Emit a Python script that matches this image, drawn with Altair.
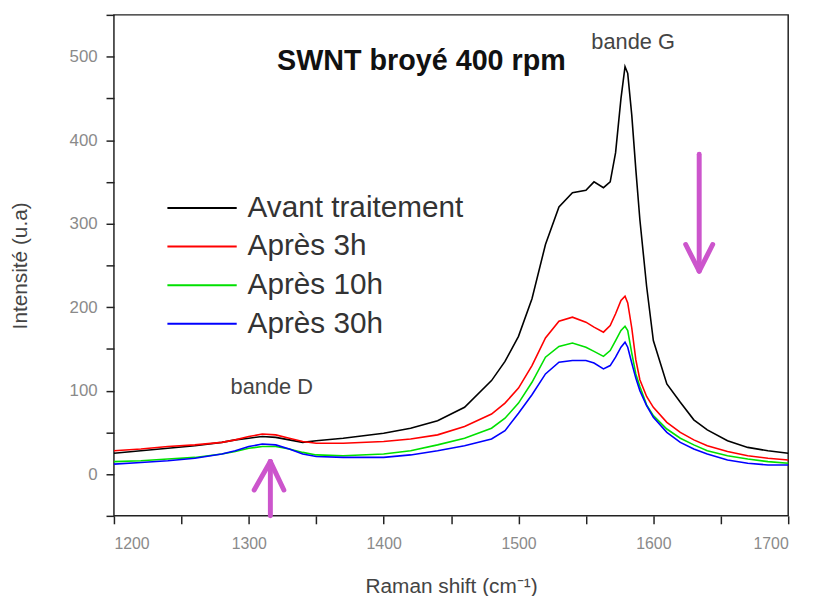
import altair as alt
import pandas as pd

# Raman shift (cm-1) grid
shift = [1200, 1220, 1240, 1260, 1280, 1290, 1300, 1310, 1320, 1330, 1340, 1350, 1370,
         1400, 1420, 1440, 1460, 1480, 1490, 1500, 1510, 1520, 1530, 1540, 1550, 1556,
         1563, 1568, 1572, 1576, 1579, 1581, 1584, 1587, 1590, 1595, 1600, 1610, 1620,
         1630, 1640, 1655, 1670, 1685, 1700]

avant = [25, 28, 31, 34, 38, 41, 43, 45, 44, 41, 38, 40, 43,
         49, 55, 64, 80, 112, 135, 165, 210, 275, 320, 337, 340, 350,
         343, 350, 385, 450, 488, 480, 430, 365, 305, 225, 160, 108, 86,
         65, 53, 40, 32, 28, 25]

apres3 = [28, 30, 33, 35, 38, 41, 45, 48, 47, 43, 39, 37, 37,
          39, 42, 47, 57, 72, 85, 103, 130, 163, 183, 188, 182, 176,
          170, 178, 192, 208, 213, 205, 175, 137, 113, 93, 80, 62, 50,
          41, 34, 27, 22, 19, 17]

apres10 = [15, 16, 18, 20, 24, 27, 31, 33, 33, 30, 26, 23, 22,
           24, 28, 35, 43, 55, 67, 85, 110, 140, 153, 157, 152, 147,
           141, 148, 160, 172, 177, 172, 145, 120, 105, 83, 70, 54, 43,
           35, 28, 22, 18, 15, 13]

apres30 = [12, 14, 16, 19, 24, 28, 33, 36, 35, 30, 24, 21, 20,
           20, 23, 28, 34, 42, 52, 73, 95, 120, 134, 136, 136, 133,
           126, 130, 140, 152, 158, 152, 133, 115, 100, 82, 68, 50, 38,
           30, 24, 17, 13, 11, 11]

series_names = ["Avant traitement", "Après 3h", "Après 10h", "Après 30h"]
series_colors = ["#000000", "#ff0000", "#00e000", "#0000ff"]
series_values = [avant, apres3, apres10, apres30]

# annotations (data coordinates)
ann_text = ["SWNT broyé 400 rpm", "bande G", "bande D"]
ann_x = [1428, 1585, 1317]
ann_y = [495, 518, 104]

# arrows: segments (x, y) -> (x2, y2)
arrow_x = [1634, 1624, 1644, 1316, 1304, 1326]
arrow_y = [383, 275, 275, 15, -19, -19]
arrow_x2 = [1634, 1634, 1634, 1316, 1316, 1316]
arrow_y2 = [246, 243, 243, -50, 15, 15]

x_ticks = [1200, 1250, 1300, 1350, 1400, 1450, 1500, 1550, 1600, 1650, 1700]
y_ticks = [-50, 0, 50, 100, 150, 200, 250, 300, 350, 400, 450, 500, 550]

rows = []
for name, vals in zip(series_names, series_values):
    for xv, yv in zip(shift, vals):
        rows.append({"shift": xv, "intensity": yv, "serie": name})
df = pd.DataFrame(rows)

xscale = alt.Scale(domain=[1200, 1700], nice=False)
yscale = alt.Scale(domain=[-50, 550], nice=False)

font = "Liberation Sans"

lines = alt.Chart(df).mark_line(strokeWidth=1.6).encode(
    x=alt.X("shift:Q", scale=xscale,
            axis=alt.Axis(title="Raman shift (cm⁻¹)",
                          values=x_ticks,
                          labelExpr="datum.value % 100 == 0 ? datum.label : ''",
                          format="d",
                          tickSize=8,
                          labelPadding=12, titlePadding=24,
                          labelFontSize=16, labelColor="#8a8a8a", labelFont=font,
                          titleFontSize=21, titleFont=font, titleColor="#444444",
                          titleFontWeight="normal",
                          domain=False, grid=False, tickColor="#222222", tickWidth=1.5)),
    y=alt.Y("intensity:Q", scale=yscale,
            axis=alt.Axis(title="Intensité (u.a)",
                          values=y_ticks,
                          labelExpr="datum.value % 100 == 0 ? datum.label : ''",
                          format="d",
                          tickSize=8,
                          labelPadding=9, titlePadding=39,
                          labelFontSize=17, labelColor="#8a8a8a", labelFont=font,
                          titleFontSize=21, titleFont=font, titleColor="#444444",
                          titleFontWeight="normal",
                          domain=False, grid=False, tickColor="#222222", tickWidth=1.5)),
    color=alt.Color("serie:N",
                    scale=alt.Scale(domain=series_names, range=series_colors),
                    sort=series_names,
                    legend=alt.Legend(orient="none", legendX=53, legendY=180, title=None,
                                      symbolType="stroke", symbolSize=4900, symbolStrokeWidth=2,
                                      labelFontSize=30, labelFont=font, labelColor="#333333",
                                      labelLimit=500,
                                      labelOffset=10, clipHeight=30, rowPadding=9)),
    detail="serie:N",
)

ann_df = pd.DataFrame({"text": ann_text, "x": ann_x, "y": ann_y})

title_txt = alt.Chart(ann_df.iloc[[0]]).mark_text(
    font=font, fontSize=29, fontWeight="bold", color="#111111"
).encode(x=alt.X("x:Q", scale=xscale), y=alt.Y("y:Q", scale=yscale), text="text:N")

band_txt = alt.Chart(ann_df.iloc[1:]).mark_text(
    font=font, fontSize=22, color="#444444"
).encode(x=alt.X("x:Q", scale=xscale), y=alt.Y("y:Q", scale=yscale), text="text:N")

arr_df = pd.DataFrame({"x": arrow_x, "y": arrow_y, "x2": arrow_x2, "y2": arrow_y2})
arrows = alt.Chart(arr_df).mark_rule(color="#cc55cc", strokeWidth=5, strokeCap="round").encode(
    x=alt.X("x:Q", scale=xscale), y=alt.Y("y:Q", scale=yscale),
    x2="x2:Q", y2="y2:Q")

chart = alt.layer(lines, title_txt, band_txt, arrows).properties(
    width=681, height=506,
    autosize=alt.AutoSizeParams(type="none"),
    padding={"left": 107, "top": 4, "right": 20, "bottom": 78},
).configure_view(stroke="#222222", strokeWidth=1.5)

chart.save("out.html", embed_options={"renderer": "svg", "actions": False})
